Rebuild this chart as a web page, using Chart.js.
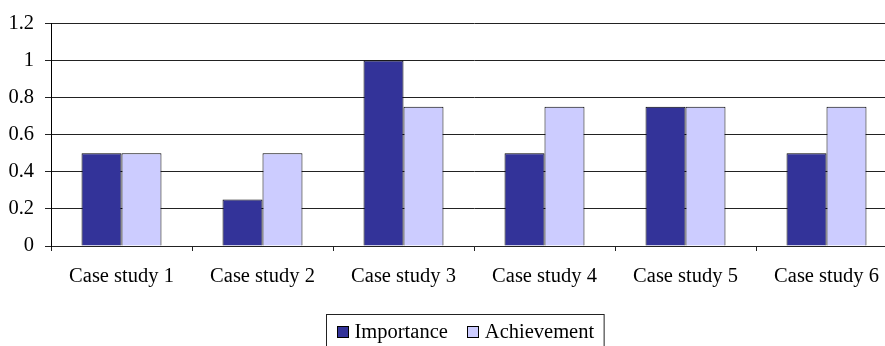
<!DOCTYPE html>
<html>
<head>
<meta charset="utf-8">
<script src="https://cdn.jsdelivr.net/npm/chart.js@4"></script>
<style>
  html, body { margin: 0; padding: 0; background: #fff; overflow: hidden; }
  #wrap { width: 897px; height: 346px; }
  .fontprobe { font-family: "Liberation Serif"; position: absolute; left: -999px; }
</style>
</head>
<body>
<span class="fontprobe">Case study</span>
<div id="wrap"><canvas id="chart" width="897" height="346"></canvas></div>
<script>
// chart data
const categories = ["Case study 1", "Case study 2", "Case study 3", "Case study 4", "Case study 5", "Case study 6"];
const importance = [0.5, 0.25, 1, 0.5, 0.75, 0.5];
const achievement = [0.5, 0.5, 0.75, 0.75, 0.75, 0.75];
const yTickLabels = ["0", "0.2", "0.4", "0.6", "0.8", "1", "1.2"];

const FONT = '"Liberation Serif", "Times New Roman", serif';
const FONT_SIZE = 20.5;

// boxed legend under the plot, like the original
const boxLegend = {
  id: "boxLegend",
  afterDraw(chart) {
    const ctx = chart.ctx;
    const sw = 12, gapText = 6, gapItem = 19, pad = 10;
    const centerX = 465, midY = 332, top = 314.5;
    ctx.save();
    ctx.font = FONT_SIZE + "px " + FONT;
    const items = chart.data.datasets.map(ds => ({
      label: ds.label, color: ds.backgroundColor, w: ctx.measureText(ds.label).width
    }));
    let total = 0;
    items.forEach((it, i) => { total += sw + gapText + it.w + (i ? gapItem : 0); });
    const boxW = total + pad * 2;
    const left = Math.round(centerX - boxW / 2) + 0.5;
    ctx.strokeStyle = "#222";
    ctx.lineWidth = 1;
    ctx.strokeRect(left, top, boxW, 60);
    let x = left + pad;
    ctx.textBaseline = "middle";
    items.forEach((it, i) => {
      if (i) x += gapItem;
      ctx.fillStyle = it.color;
      ctx.fillRect(Math.round(x), midY - 6, sw, sw);
      ctx.strokeStyle = "#000";
      ctx.strokeRect(Math.round(x) + 0.5, midY - 5.5, sw - 1, sw - 1);
      x += sw + gapText;
      ctx.fillStyle = "#000";
      ctx.fillText(it.label, x, midY + 1);
      x += it.w;
    });
    ctx.restore();
  }
};

function draw() {
  new Chart(document.getElementById("chart").getContext("2d"), {
    type: "bar",
    data: {
      labels: categories,
      datasets: [
        {
          label: "Importance",
          data: importance,
          backgroundColor: "#333399",
          borderColor: "#000",
          borderWidth: 1,
        },
        {
          label: "Achievement",
          data: achievement,
          backgroundColor: "#CCCCFF",
          borderColor: "#000",
          borderWidth: 1,
        },
      ],
    },
    options: {
      responsive: false,
      animation: false,
      categoryPercentage: 0.567,
      barPercentage: 1,
      layout: { padding: { top: 20, left: 0, right: 0, bottom: 0 } },
      plugins: {
        legend: { display: false },
        tooltip: { enabled: false },
      },
      scales: {
        x: {
          afterFit: (scale) => { scale.height = 100; },
          grid: {
            offset: true,
            drawOnChartArea: false,
            drawTicks: true,
            tickLength: 5,
            color: "#222",
          },
          border: { color: "#222" },
          ticks: {
            color: "#000",
            padding: 13,
            maxRotation: 0,
            font: { family: FONT, size: FONT_SIZE },
          },
        },
        y: {
          min: 0,
          max: 1.2,
          afterFit: (scale) => { scale.width = 51; },
          grid: { color: "#222", tickLength: 6 },
          border: { color: "#000" },
          ticks: {
            stepSize: 0.2,
            color: "#000",
            padding: 11,
            font: { family: FONT, size: FONT_SIZE },
            callback: (v, i) => yTickLabels[i],
          },
        },
      },
    },
    plugins: [boxLegend],
  });
}

if (document.fonts && document.fonts.load) {
  document.fonts.load(FONT_SIZE + 'px "Liberation Serif"').then(draw, draw);
} else {
  draw();
}
</script>
</body>
</html>
